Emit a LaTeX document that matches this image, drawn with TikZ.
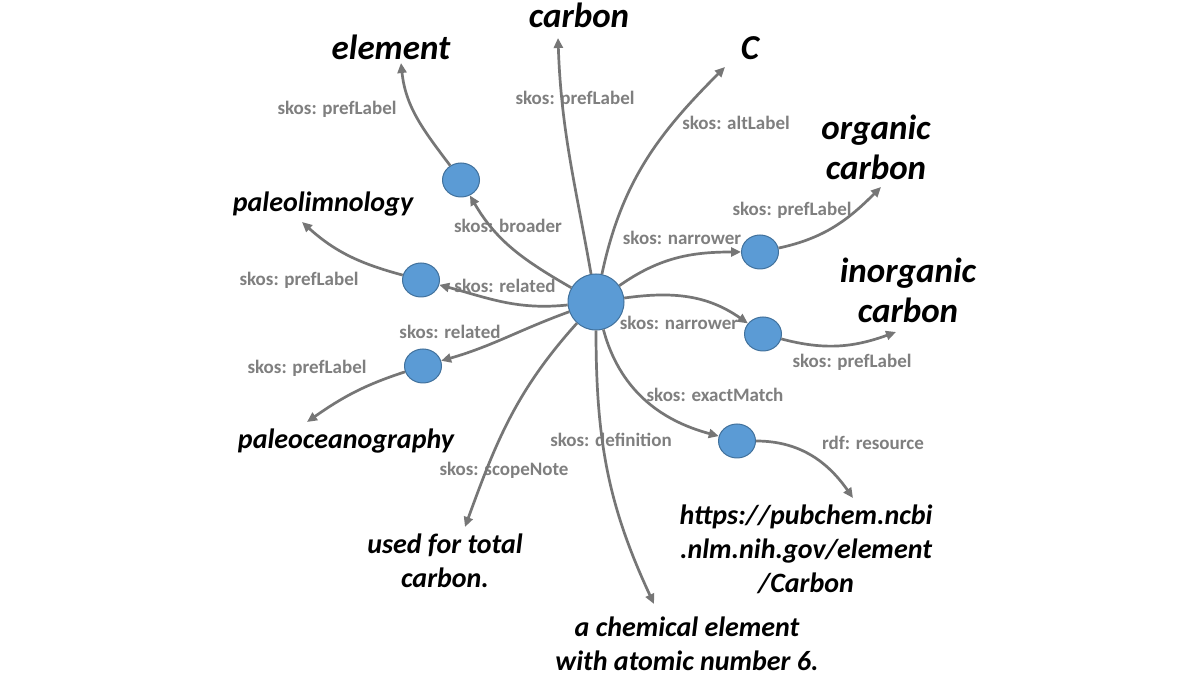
\documentclass[tikz,border=0pt]{standalone}
\usepackage{fontspec}
\setmainfont{Carlito}
\usetikzlibrary{arrows.meta,shapes.geometric}
\definecolor{dotfill}{RGB}{91,155,213}
\definecolor{dotline}{RGB}{65,113,156}
\definecolor{edgegray}{RGB}{118,118,118}
\definecolor{lblgray}{RGB}{127,127,127}
\tikzset{
  big/.style={font=\fontsize{35}{40}\selectfont\bfseries\itshape, align=center, inner sep=0pt},
  mid/.style={font=\fontsize{28}{34}\selectfont\bfseries\itshape, align=center, inner sep=0pt},
  lbl/.style={font=\fontsize{19}{22}\selectfont\bfseries, text=lblgray, inner sep=0pt},
  dot/.style={ellipse, draw=dotline, fill=dotfill, line width=1pt, minimum width=37pt, minimum height=34pt, inner sep=0pt},
  hub/.style={circle, draw=dotline, fill=dotfill, line width=1pt, minimum size=56pt, inner sep=0pt},
  rel/.style={draw=edgegray, line width=2.7pt, -{Triangle[length=10pt,width=9pt]}},
}
\begin{document}
\begin{tikzpicture}[x=1pt,y=1pt]
\useasboundingbox (0,0) rectangle (1200,675);
\fill[white] (0,0) rectangle (1200,675);

% edge labels
\node[lbl] (l1) at (337,566) {skos: prefLabel};
\node[lbl] (l2) at (575,576) {skos: prefLabel};
\node[lbl] (l3) at (736,552) {skos: altLabel};
\node[lbl] (l4) at (508,449) {skos: broader};
\node[lbl] (l5) at (505,389) {skos: related};
\node[lbl] (l6) at (299,395) {skos: prefLabel};
\node[lbl] (l7) at (450,343) {skos: related};
\node[lbl] (l8) at (307,307) {skos: prefLabel};
\node[lbl] (l9) at (682,437) {skos: narrower};
\node[lbl] (l10) at (792,465) {skos: prefLabel};
\node[lbl] (l11) at (679,352) {skos: narrower};
\node[lbl] (l12) at (852,313) {skos: prefLabel};
\node[lbl] (l13) at (715,280) {skos: exactMatch};
\node[lbl] (l14) at (873,232) {rdf: resource};
\node[lbl] (l15) at (611,235) {skos: definition};
\node[lbl] (l16) at (504,205) {skos: scopeNote};

% text nodes
\node[big] (carbon) at (579,660) {carbon};
\node[big] (element) at (391,627.5) {element};
\node[big] (csym) at (750,626.5) {C};
\node[big] (organic) at (876,527.5) {organic\\carbon};
\node[big] (inorganic) at (908,385) {inorganic\\carbon};
\node[mid] (limn) at (323,471) {paleolimnology};
\node[mid] (ocean) at (346,234) {paleoceanography};
\node[mid] (scope) at (445,114) {used for total\\carbon.};
\node[mid] (defn) at (687,31) {a chemical element\\with atomic number 6.};
\node[mid] (url) at (806,126) {https://pubchem.ncbi\\.nlm.nih.gov/element\\/Carbon};

% arrow end points
\coordinate (tCarbon) at (558,637);
\coordinate (tC) at (725,608);
\coordinate (tEl) at (401,612);
\coordinate (tLim) at (302,453);
\coordinate (tOce) at (307,253);
\coordinate (tOrg) at (881,488);
\coordinate (tInorg) at (896,343);
\coordinate (tUrl) at (853,177);
\coordinate (tDef) at (654,71);
\coordinate (tScope) at (465,148);

% concept nodes
\node[hub] (hub) at (596,373) {};
\node[dot] (nb) at (461,495) {};
\node[dot] (nr1) at (421,395) {};
\node[dot] (nr2) at (423,309) {};
\node[dot] (nn1) at (760,423) {};
\node[dot] (nn2) at (763,341) {};
\node[dot] (ne) at (737,234) {};

% connectors
\draw[rel] (hub) to[out=100,in=-88] (tCarbon);
\draw[rel] (hub) to[out=78,in=-135] (tC);
\draw[rel] (hub) to[out=150,in=-60] (nb);
\draw[rel] (nb) to[out=127,in=-84] (tEl);
\draw[rel] (hub) to[out=186,in=-15] (nr1);
\draw[rel] (nr1) to[out=165,in=-42] (tLim);
\draw[rel] (hub) to[out=200,in=16] (nr2);
\draw[rel] (nr2) to[out=198,in=35] (tOce);
\draw[rel] (hub) to[out=35,in=180] (nn1);
\draw[rel] (nn1) to[out=12,in=-135] (tOrg);
\draw[rel] (hub) to[out=8,in=145] (nn2);
\draw[rel] (nn2) to[out=-15,in=200] (tInorg);
\draw[rel] (hub) to[out=-75,in=165] (ne);
\draw[rel] (ne) to[out=0,in=125] (tUrl);
\draw[rel] (hub) to[out=-90,in=115] (tDef);
\draw[rel] (hub) to[out=228,in=70] (tScope);
\end{tikzpicture}
\end{document}
